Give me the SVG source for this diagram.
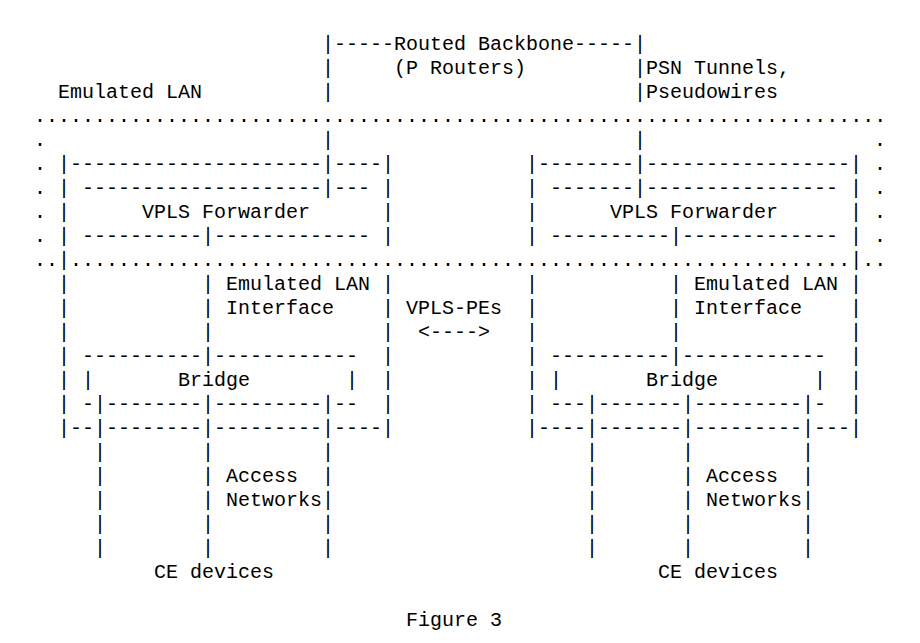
<svg xmlns="http://www.w3.org/2000/svg" width="920" height="643" viewBox="0 0 920 643" xml:space="preserve">
<style>
  text { font-family: "Liberation Mono", "Courier New", monospace; font-size: 20px; fill: #000; white-space: pre; }
</style>
<rect width="920" height="643" fill="#fff"/>
<g id="backbone">
  <text x="322" y="50">|-----Routed Backbone-----|</text>
  <text x="322" y="74">|</text>
  <text x="394" y="74">(P Routers)</text>
  <text x="634" y="74">|PSN Tunnels,</text>
  <text x="322" y="98">|</text>
  <text x="634" y="98">|Pseudowires</text>
  <text x="322" y="146">|</text>
  <text x="634" y="146">|</text>
</g>
<g id="emulated-lan">
  <text x="58" y="98">Emulated LAN</text>
  <text x="34" y="122">.......................................................................</text>
  <text x="34" y="146">.</text><text x="874" y="146">.</text>
  <text x="34" y="170">.</text><text x="874" y="170">.</text>
  <text x="34" y="194">.</text><text x="874" y="194">.</text>
  <text x="34" y="218">.</text><text x="874" y="218">.</text>
  <text x="34" y="242">.</text><text x="874" y="242">.</text>
  <text x="34" y="266">..|.................................................................|..</text>
</g>
<g id="pe-left">
  <text x="58" y="170">|---------------------|----|</text>
  <text x="58" y="194">| --------------------|--- |</text>
  <text x="58" y="218">|      VPLS Forwarder      |</text>
  <text x="58" y="242">| ----------|------------- |</text>
  <text x="58" y="290">|           | Emulated LAN |</text>
  <text x="58" y="314">|           | Interface    |</text>
  <text x="58" y="338">|           |              |</text>
  <text x="58" y="362">| ----------|------------  |</text>
  <text x="58" y="386">| |       Bridge        |  |</text>
  <text x="58" y="410">| -|--------|---------|--  |</text>
  <text x="58" y="434">|--|--------|---------|----|</text>
</g>
<g id="pe-right">
  <text x="526" y="170">|--------|-----------------|</text>
  <text x="526" y="194">| -------|---------------- |</text>
  <text x="526" y="218">|      VPLS Forwarder      |</text>
  <text x="526" y="242">| ----------|------------- |</text>
  <text x="526" y="290">|           | Emulated LAN |</text>
  <text x="526" y="314">|           | Interface    |</text>
  <text x="526" y="338">|           |              |</text>
  <text x="526" y="362">| ----------|------------  |</text>
  <text x="526" y="386">| |       Bridge        |  |</text>
  <text x="526" y="410">| ---|-------|---------|-  |</text>
  <text x="526" y="434">|----|-------|---------|---|</text>
</g>
<g id="vpls-pes">
  <text x="406" y="314">VPLS-PEs</text>
  <text x="418" y="338">&lt;----&gt;</text>
</g>
<g id="connectors">
  <g id="access-left">
    <text x="94" y="458">|        |         |</text>
    <text x="94" y="482">|        | Access  |</text>
    <text x="94" y="506">|        | Networks|</text>
    <text x="94" y="530">|        |         |</text>
    <text x="94" y="554">|        |         |</text>
  </g>
  <g id="access-right">
    <text x="586" y="458">|       |         |</text>
    <text x="586" y="482">|       | Access  |</text>
    <text x="586" y="506">|       | Networks|</text>
    <text x="586" y="530">|       |         |</text>
    <text x="586" y="554">|       |         |</text>
  </g>
</g>
<g id="ce-left"><text x="154" y="578">CE devices</text></g>
<g id="ce-right"><text x="658" y="578">CE devices</text></g>
<g id="caption"><text x="406" y="626">Figure 3</text></g>
</svg>
